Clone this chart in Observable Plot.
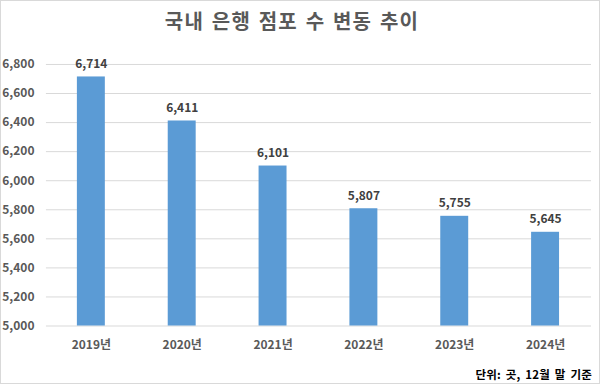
<!DOCTYPE html>
<html><head><meta charset="utf-8">
<script src="https://cdn.jsdelivr.net/npm/d3@7"></script>
<script src="https://cdn.jsdelivr.net/npm/@observablehq/plot@0.6"></script>
<style>
html,body{margin:0;padding:0;background:#fff;}
#frame{position:relative;width:600px;height:384px;box-sizing:border-box;border:1px solid #d9d9d9;font-family:"Noto Sans CJK KR","Noto Sans",sans-serif;overflow:hidden;}
#title{position:absolute;left:0;top:0;width:582px;height:40px;line-height:40px;text-align:center;font-size:20px;font-weight:bold;color:#595959;letter-spacing:1.2px;word-spacing:2px;}
#chart{position:absolute;left:-1px;top:39px;}
#caption{position:absolute;right:7px;top:365px;font-size:11.5px;font-weight:bold;color:#000;word-spacing:2px;letter-spacing:0.2px;}
</style></head>
<body>
<div id="frame">
<div id="title">국내 은행 점포 수 변동 추이</div>
<div id="chart"></div>
<div id="caption">단위: 곳, 12월 말 기준</div>
</div>
<script>
const years = ["2019년","2020년","2021년","2022년","2023년","2024년"];
const branches = [6714, 6411, 6101, 5807, 5755, 5645];
const yTicks = [5000,5200,5400,5600,5800,6000,6200,6400,6600,6800];

const data = years.map((y,i)=>({year:y, value:branches[i]}));
const fmt = d3.format(",");

const chart = Plot.plot({
  width: 600,
  height: 320,
  marginTop: 24,
  marginBottom: 34,
  marginLeft: 46,
  marginRight: 8,
  style: {fontFamily: '"Noto Sans CJK KR","Noto Sans",sans-serif', fontSize: "12px", color: "#595959", background: "transparent"},
  x: {domain: years, paddingInner: 0.69, paddingOuter: 0.345, label: null},
  y: {domain: [5000, 6800], label: null},
  marks: [
    Plot.gridY(yTicks, {stroke: "#d9d9d9", strokeOpacity: 1, strokeWidth: 1}),
    Plot.barY(data, {x: "year", y1: 5000, y2: "value", fill: "#5b9bd5"}),
    Plot.text(data, {x: "year", y: "value", text: d => fmt(d.value), dy: -13, fill: "#404040", fontWeight: "bold", fontSize: 12}),
    Plot.axisY(yTicks, {tickSize: 0, tickPadding: 10, tickFormat: fmt, fill: "#595959", fontWeight: "bold", fontSize: 12, textAnchor: "end", dx: -2}),
    Plot.axisX({tickSize: 0, tickPadding: 14, fill: "#595959", fontWeight: "bold", fontSize: 12})
  ]
});
document.getElementById("chart").appendChild(chart);
</script>
</body></html>
